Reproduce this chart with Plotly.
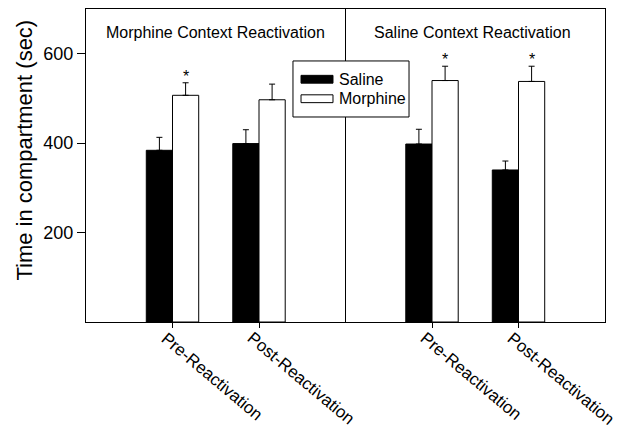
import plotly.graph_objects as go

contexts = ["Morphine Context Reactivation", "Saline Context Reactivation"]
phases = ["Pre-Reactivation", "Post-Reactivation"]
groups = ["Saline", "Morphine"]

saline_mean = [384, 399, 398, 340]
saline_sem = [29, 31, 33, 20]
morphine_mean = [507, 497, 540, 538]
morphine_sem = [28, 35, 32, 34]
significant = [True, False, True, True]

y_ticks = [200, 400, 600]

# layout helpers (positions derived from category indices; one empty slot between contexts)
xpos = [ci * 3 + pi for ci in range(len(contexts)) for pi in range(len(phases))]
xlabels = [p for _ in contexts for p in phases]
bargap = 0.394
bar_w = (1 - bargap) / 2

FONT = "Liberation Sans, Arial, sans-serif"
fills = ["black", "white"]

fig = go.Figure()
for name, mean, sem, fill in zip(groups, [saline_mean, morphine_mean], [saline_sem, morphine_sem], fills):
    fig.add_trace(go.Bar(
        x=xpos, y=mean, name=name,
        marker=dict(color=fill, line=dict(color="black", width=1)),
        error_y=dict(type="data", array=sem, arrayminus=[0] * len(sem),
                     symmetric=False, color="black", thickness=1, width=3),
    ))

annotations = []
shapes = [dict(type="line", xref="x", yref="y", x0=2, x1=2, y0=0, y1=700,
               line=dict(color="black", width=1))]

# significance asterisks
for x, m, e, s in zip(xpos, morphine_mean, morphine_sem, significant):
    if s:
        annotations.append(dict(x=x + bar_w / 2, y=m + e, text="*", showarrow=False,
                                xref="x", yref="y", yanchor="bottom", yshift=-4,
                                font=dict(size=16, family=FONT, color="black")))
# panel titles
for ci, c in enumerate(contexts):
    annotations.append(dict(x=ci * 3 + 0.5 - 0.03 * ci, y=648, text=c, showarrow=False,
                            xref="x", yref="y",
                            font=dict(size=16, family=FONT, color="black")))
# rotated x tick labels
for x, lab in zip(xpos, xlabels):
    annotations.append(dict(x=x, y=0, xref="x", yref="y", text=lab, showarrow=False,
                            textangle=40, xanchor="left", yanchor="top",
                            xshift=-18, yshift=-4,
                            font=dict(size=17, family=FONT, color="black")))
# y axis title
annotations.append(dict(x=-0.118, y=0.55, xref="paper", yref="paper", text="Time in compartment (sec)",
                        textangle=-90, showarrow=False, xanchor="center", yanchor="middle",
                        font=dict(size=22, family=FONT, color="black")))

# legend box drawn with wide swatches
lg_x0, lg_x1, lg_y0, lg_y1 = 0.3988, 0.6224, 0.655, 0.834
shapes.append(dict(type="rect", xref="paper", yref="paper", x0=lg_x0, x1=lg_x1, y0=lg_y0, y1=lg_y1,
                   line=dict(color="black", width=1), fillcolor="white", layer="above"))
sw_x0, sw_x1 = 0.4143, 0.4759
for (name, fill), yc in zip(zip(groups, fills), [0.7755, 0.7133]):
    shapes.append(dict(type="rect", xref="paper", yref="paper", x0=sw_x0, x1=sw_x1,
                       y0=yc - 0.0125, y1=yc + 0.0125,
                       line=dict(color="black", width=1), fillcolor=fill, layer="above"))
    annotations.append(dict(x=0.4836, y=yc, xref="paper", yref="paper", text=name,
                            showarrow=False, xanchor="left", yanchor="middle",
                            font=dict(size=16, family=FONT, color="black")))

fig.update_layout(
    width=627, height=435,
    margin=dict(l=86, r=22, t=9, b=113),
    paper_bgcolor="white", plot_bgcolor="white",
    barmode="group", bargap=bargap, bargroupgap=0,
    font=dict(family=FONT, color="black"),
    showlegend=False,
    annotations=annotations,
    shapes=shapes,
)
fig.update_xaxes(range=[-1, 5], tickmode="array", tickvals=xpos, showticklabels=False,
                 ticks="outside", ticklen=5, tickcolor="black",
                 showline=True, linecolor="black", linewidth=1, mirror=True,
                 showgrid=False, zeroline=False, automargin=False)
fig.update_yaxes(range=[0, 700], tickmode="array", tickvals=y_ticks,
                 ticks="outside", ticklen=8, tickcolor="black",
                 showline=True, linecolor="black", linewidth=1, mirror=True,
                 showgrid=False, zeroline=False, automargin=False,
                 tickfont=dict(size=18, family=FONT, color="black"))

fig.write_html("out.html")
